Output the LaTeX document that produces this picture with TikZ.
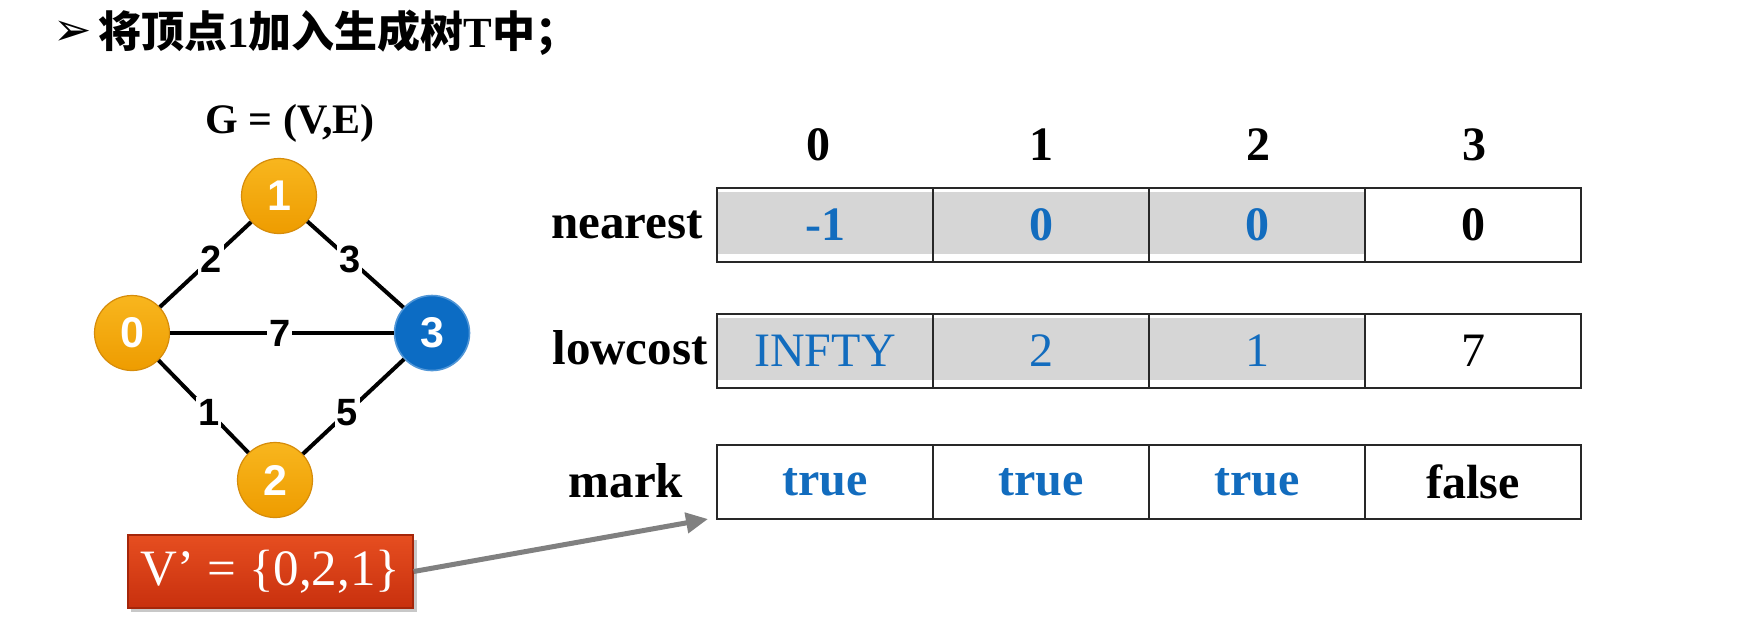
\documentclass[tikz,border=0pt]{standalone}
\usepackage{fontspec}
\setmainfont{Liberation Serif}
\newfontfamily\cjk{Noto Sans CJK SC}
\newfontfamily\sansf{Liberation Sans}
\newfontfamily\dejavu{DejaVu Sans}
\usetikzlibrary{arrows.meta}
\definecolor{orangeA}{RGB}{248,182,30}
\definecolor{orangeB}{RGB}{238,156,0}
\definecolor{orangeD}{RGB}{214,140,10}
\definecolor{blueN}{RGB}{12,108,196}
\definecolor{blueRing}{RGB}{80,150,215}
\definecolor{valblue}{RGB}{18,108,190}
\definecolor{cellgray}{RGB}{214,214,214}
\definecolor{redA}{RGB}{230,78,32}
\definecolor{redB}{RGB}{200,48,14}
\definecolor{redD}{RGB}{165,38,10}
\definecolor{shadowgray}{RGB}{200,200,200}
\definecolor{arrowgray}{RGB}{128,128,128}
\definecolor{gridline}{RGB}{40,40,40}
\begin{document}
\begin{tikzpicture}[x=0.5pt,y=-0.5pt,
  vert/.style={circle, minimum size=37.5pt, inner sep=0pt, text=white,
    font=\sansf\bfseries\fontsize{21.5}{21.5}\selectfont},
  overt/.style={vert, top color=orangeA, bottom color=orangeB, draw=orangeD, line width=0.6pt},
  bvert/.style={vert, fill=blueN, draw=blueRing, line width=0.8pt},
  edge/.style={line width=2pt, black},
  elabel/.style={fill=white, inner sep=1pt, font=\sansf\bfseries\fontsize{19}{19}\selectfont},
  cell/.style={draw=gridline, line width=1pt, minimum width=108pt, minimum height=37pt, inner sep=0pt,
    font=\fontsize{24}{24}\selectfont},
  shaded/.style={path picture={\fill[cellgray]
      ([yshift=-2pt]path picture bounding box.north west) rectangle
      ([yshift=4pt]path picture bounding box.south east);}},
  vb/.style={text=valblue, font=\bfseries\fontsize{24}{24}\selectfont},
  vr/.style={text=valblue, font=\fontsize{24}{24}\selectfont},
  kb/.style={text=black, font=\bfseries\fontsize{24}{24}\selectfont},
  kr/.style={text=black, font=\fontsize{24}{24}\selectfont},
  rowlabel/.style={anchor=base, font=\bfseries\fontsize{24.5}{24.5}\selectfont},
  header/.style={font=\bfseries\fontsize{24}{24}\selectfont},
  redbox/.style={top color=redA, bottom color=redB, draw=redD, line width=0.6pt,
    minimum width=142.5pt, minimum height=36.5pt, inner sep=0pt, text=white,
    font=\fontsize{25.5}{25.5}\selectfont},
  pointer/.style={arrowgray, line width=2.5pt, -{Triangle[length=11pt,width=10pt]}}
]
\useasboundingbox (0,0) rectangle (1749,629);
\fill[white] (0,0) rectangle (1749,629);

% title
\node[font=\dejavu\bfseries\fontsize{23}{23}\selectfont] (bullet) at (73,33) {➢};
\node[anchor=west, inner sep=0pt, font=\fontsize{21.5}{21.5}\selectfont] (title) at (98,33)
  {{\cjk\bfseries 将顶点}{\bfseries 1}{\cjk\bfseries 加入生成树}{\bfseries T}{\cjk\bfseries 中；}};

% graph
\node[font=\bfseries\fontsize{21}{21}\selectfont] (gname) at (290,123) {G = (V,E)};
\node[overt] (n1) at (279,196) {1};
\node[overt] (n0) at (132,333) {0};
\node[bvert] (n3) at (432,333) {3};
\node[overt] (n2) at (275,480) {2};
\draw[edge] (n0) -- node[elabel, pos=0.56] {2} (n1);
\draw[edge] (n1) -- node[elabel, pos=0.44] {3} (n3);
\draw[edge] (n0) -- node[elabel, pos=0.49] {7} (n3);
\draw[edge] (n0) -- node[elabel, pos=0.56] {1} (n2);
\draw[edge] (n2) -- node[elabel, pos=0.44] {5} (n3);

% V' box and arrow
\fill[shadowgray] (131,540) rectangle (417,612);
\node[redbox] (vbox) at (270.5,571.5) {V’ = \{0,2,1\}};
\coordinate (tip) at (708,519);
\draw[pointer] (vbox.east) -- (tip);

% headers
\node[header] (h0) at (818,145) {0};
\node[header] (h1) at (1041,145) {1};
\node[header] (h2) at (1258,145) {2};
\node[header] (h3) at (1474,145) {3};

% row labels
\node[rowlabel] (lnearest) at (627,238) {nearest};
\node[rowlabel] (llowcost) at (630,364) {lowcost};
\node[rowlabel] (lmark) at (626,497) {mark};

% nearest row
\node[cell, shaded, vb] (a0) at (825,225) {-1};
\node[cell, shaded, vb] (a1) at (1041,225) {0};
\node[cell, shaded, vb] (a2) at (1257,225) {0};
\node[cell, kb] (a3) at (1473,225) {0};
% lowcost row
\node[cell, shaded, vr] (b0) at (825,350.5) {INFTY};
\node[cell, shaded, vr] (b1) at (1041,350.5) {2};
\node[cell, shaded, vr] (b2) at (1257,350.5) {1};
\node[cell, kr] (b3) at (1473,350.5) {7};
% mark row
\node[cell, vb] (c0) at (825,482) {true};
\node[cell, vb] (c1) at (1041,482) {true};
\node[cell, vb] (c2) at (1257,482) {true};
\node[cell, kb] (c3) at (1473,482) {false};
\end{tikzpicture}
\end{document}
